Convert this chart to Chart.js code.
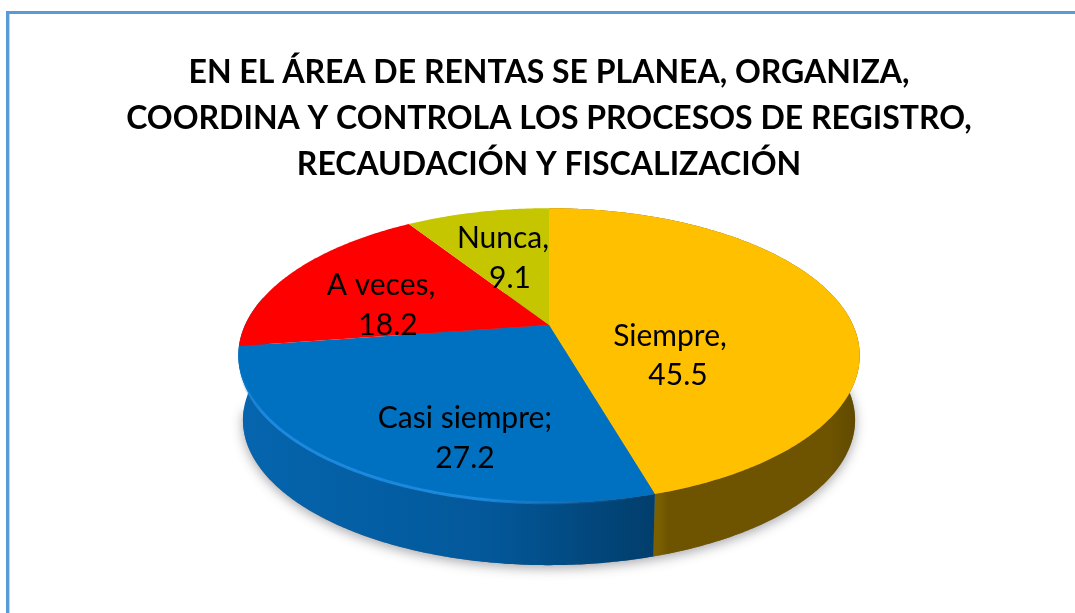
<!DOCTYPE html>
<html>
<head>
<meta charset="utf-8">
<style>
html,body{margin:0;padding:0;background:#fff;width:1075px;height:613px;overflow:hidden}
#frame{position:absolute;left:6px;top:11px;right:-5px;bottom:-5px;border-top:3px solid #5B9BD5;border-left:3px solid #5B9BD5;box-shadow:inset 1px 0 0 #BCD7EF}
#c{position:absolute;left:24px;top:0}
</style>
<script src="https://cdn.jsdelivr.net/npm/chart.js@4/dist/chart.umd.js"></script>
</head>
<body>
<div id="frame"></div>
<canvas id="c" width="1050" height="613"></canvas>
<script>
const titleLines = [
  "EN EL ÁREA DE RENTAS SE PLANEA, ORGANIZA,",
  "COORDINA Y CONTROLA LOS PROCESOS DE REGISTRO,",
  "RECAUDACIÓN Y FISCALIZACIÓN"
];
const categories = ["Siempre", "Casi siempre", "A veces", "Nunca"];
const values = [45.5, 27.2, 18.2, 9.1];
const separators = [",", ";", ",", ","];
const faceColors = ["#FFC000", "#0070C0", "#FF0000", "#C5C500"];

// Styling and geometry of the perspective view (canvas pixels)
const view = {cx: 525, cy: 325, R: 304, H: 141, k: 0.207, depth: 65, baseScale: 0.985};
const labelPlace = [
  {x: 646, y: 336, x2: 654, y2: 375},
  {x: 441, y: 418, x2: 441, y2: 458},
  {x: 357, y: 285, x2: 364, y2: 325},
  {x: 479, y: 238, x2: 486, y2: 278}
];
const sideStops = [
  [[0, "#7C6000"], [0.05, "#6E5400"], [0.85, "#6E5400"], [1, "#5F4800"]],
  [[0, "#0565AE"], [0.6, "#03589A"], [0.85, "#02477C"], [1, "#013E6C"]],
  null,
  null
];
const blueWallExtra = 0.35;

function project(theta, scale, dy) {
  const u = Math.cos(theta), v = -Math.sin(theta), w = 1 + view.k * v;
  return {
    x: view.cx + view.R * scale * u / w,
    y: view.cy + dy - view.H * scale * v / w
  };
}
function traceRim(ctx, a0, a1, scale, dy, first) {
  const steps = Math.max(8, Math.ceil(Math.abs(a1 - a0) / 0.01));
  for (let i = 0; i <= steps; i++) {
    const p = project(a0 + (a1 - a0) * i / steps, scale, dy);
    if (i === 0 && first) ctx.moveTo(p.x, p.y); else ctx.lineTo(p.x, p.y);
  }
}

// The library's arc elements keep their computed angles; only the drawing is projected.
Chart.ArcElement.prototype.draw = function (ctx) {
  ctx.save();
  ctx.beginPath();
  ctx.moveTo(view.cx, view.cy);
  traceRim(ctx, this.startAngle, this.endAngle, 1, 0, false);
  ctx.closePath();
  ctx.fillStyle = this.options.backgroundColor;
  ctx.fill();
  ctx.restore();
};

const sidePlugin = {
  id: "side",
  beforeDatasetsDraw(chart) {
    const ctx = chart.ctx, arcs = chart.getDatasetMeta(0).data;
    // soft ground shadow
    ctx.save();
    ctx.shadowColor = "rgba(60,60,70,0.45)";
    ctx.shadowBlur = 12;
    ctx.shadowOffsetY = 3;
    ctx.fillStyle = "#777";
    ctx.beginPath();
    traceRim(ctx, arcs[0].startAngle, arcs[1].endAngle, view.baseScale, view.depth, true);
    ctx.closePath();
    ctx.fill();
    ctx.restore();
    arcs.forEach((arc, i) => {
      const stops = sideStops[i];
      if (!stops) return;
      const a0 = arc.startAngle, a1 = arc.endAngle + (i === 1 ? blueWallExtra : 0);
      let minX = 1e9, maxX = -1e9;
      for (let t = a0; t <= arc.endAngle; t += 0.01) {
        if (Math.sin(t) < -0.1) continue;
        const px = project(t, 1, 0).x;
        minX = Math.min(minX, px); maxX = Math.max(maxX, px);
      }
      const g = ctx.createLinearGradient(minX, 0, maxX, 0);
      stops.forEach(s => g.addColorStop(s[0], s[1]));
      ctx.beginPath();
      traceRim(ctx, a0, a1, 1, 0, true);
      traceRim(ctx, a1, a0, view.baseScale, view.depth, false);
      ctx.closePath();
      ctx.fillStyle = g;
      ctx.fill();
    });
  },
  afterDatasetsDraw(chart) {
    const ctx = chart.ctx, arc = chart.getDatasetMeta(0).data[1];
    // light bevel along the front rim of the blue slice
    const a1 = arc.endAngle - 0.02, a0 = arc.startAngle + 0.02;
    const pa = project(a1, 1, 0), pb = project(a0, 1, 0);
    const g = ctx.createLinearGradient(pa.x, 0, pb.x, 0);
    g.addColorStop(0, "rgba(30,140,225,0)");
    g.addColorStop(0.06, "rgba(30,140,225,0.9)");
    g.addColorStop(0.6, "rgba(30,140,225,0.9)");
    g.addColorStop(0.85, "rgba(20,110,190,0.35)");
    g.addColorStop(1, "rgba(20,110,190,0)");
    ctx.save();
    ctx.beginPath();
    traceRim(ctx, a0, a1, 1, 0, true);
    ctx.strokeStyle = g;
    ctx.lineWidth = 3;
    ctx.stroke();
    ctx.restore();
  }
};

const labelPlugin = {
  id: "sliceLabels",
  afterDatasetsDraw(chart) {
    const ctx = chart.ctx;
    ctx.save();
    ctx.font = "30px Lato";
    ctx.fillStyle = "#000";
    ctx.textAlign = "center";
    ctx.textBaseline = "middle";
    categories.forEach((name, i) => {
      const p = labelPlace[i];
      ctx.fillText(name + separators[i], p.x, p.y);
      ctx.fillText(values[i].toFixed(1), p.x2, p.y2);
    });
    ctx.restore();
  }
};

new Chart(document.getElementById("c"), {
  type: "pie",
  data: {
    labels: categories,
    datasets: [{data: values, backgroundColor: faceColors, borderWidth: 0}]
  },
  options: {
    responsive: false,
    animation: false,
    events: [],
    layout: {padding: 0},
    plugins: {
      legend: {display: false},
      tooltip: {enabled: false},
      title: {
        display: true,
        text: titleLines,
        color: "#000",
        font: {family: "Lato", size: 32, weight: "bold", lineHeight: 1.43},
        padding: {top: 50, bottom: 10}
      }
    }
  },
  plugins: [sidePlugin, labelPlugin]
});
</script>
</body>
</html>
